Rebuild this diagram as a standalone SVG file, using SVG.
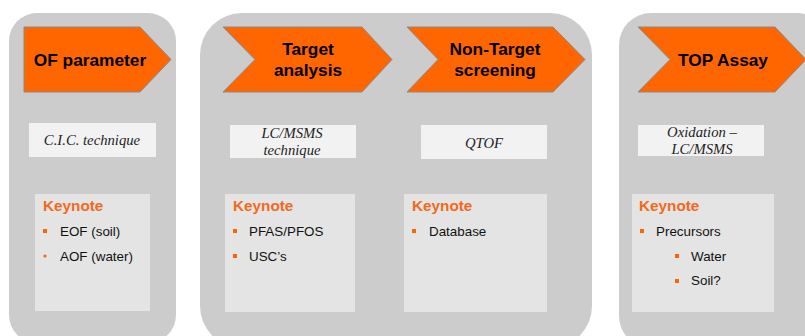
<svg xmlns="http://www.w3.org/2000/svg" width="805" height="336" viewBox="0 0 805 336">
<style>
.panel{fill:#cccccc}
.arrow{fill:#ff6600;stroke:#8a8a8a;stroke-width:1}
.tech{fill:#f2f2f2}
.key{fill:#e4e4e4}
.h{font-family:"Liberation Sans",Arial,sans-serif;font-weight:bold;font-size:17.3px;fill:#000;text-anchor:middle}
.it{font-family:"Liberation Serif","Times New Roman",serif;font-style:italic;font-size:14.7px;fill:#222;text-anchor:middle}
.kt{font-family:"Liberation Sans",Arial,sans-serif;font-weight:bold;font-size:15.3px;fill:#f26a1b}
.li{font-family:"Liberation Sans",Arial,sans-serif;font-size:13.4px;fill:#111}
.b{fill:#ff6600}
</style>
<rect width="805" height="336" fill="#ffffff"/>
<g id="panel-of">
<rect class="panel" x="9" y="13" width="167" height="330" rx="28"/>
<path class="arrow" d="M24,27 H140 L171,59.5 L140,92 H24 Z"/>
<text class="h" x="90" y="66">OF parameter</text>
<rect class="tech" x="29" y="123" width="127" height="34"/>
<text class="it" x="92" y="145">C.I.C. technique</text>
<rect class="key" x="35" y="194" width="115" height="117"/>
<text class="kt" x="43" y="211">Keynote</text>
<rect class="b" x="43" y="229" width="4" height="4"/>
<text class="li" x="60" y="236">EOF (soil)</text>
<circle class="b" cx="45" cy="256" r="1.6"/>
<text class="li" x="60" y="261">AOF (water)</text>
</g>
<g id="panel-target">
<rect class="panel" x="200" y="13" width="392" height="335" rx="42"/>
<g id="target-analysis">
<path class="arrow" d="M223,27 H362 L392,59.5 L362,92 H223 L255,59.5 Z"/>
<text class="h" x="308" y="55">Target</text>
<text class="h" x="308" y="76">analysis</text>
<rect class="tech" x="230" y="125" width="126" height="33"/>
<text class="it" x="292" y="138">LC/MSMS</text>
<text class="it" x="292" y="155">technique</text>
<rect class="key" x="225" y="194" width="130" height="118"/>
<text class="kt" x="233" y="211">Keynote</text>
<rect class="b" x="233" y="229" width="4" height="4"/>
<text class="li" x="249" y="236">PFAS/PFOS</text>
<rect class="b" x="233" y="254" width="4" height="4"/>
<text class="li" x="249" y="261">USC’s</text>
</g>
<g id="non-target">
<path class="arrow" d="M407,27 H553 L585,59.5 L553,92 H407 L438,59.5 Z"/>
<text class="h" x="495" y="55">Non-Target</text>
<text class="h" x="495" y="76">screening</text>
<rect class="tech" x="421" y="125" width="126" height="34"/>
<text class="it" x="484" y="148">QTOF</text>
<rect class="key" x="404" y="194" width="143" height="118"/>
<text class="kt" x="412" y="211">Keynote</text>
<rect class="b" x="412" y="229" width="4" height="4"/>
<text class="li" x="429" y="236">Database</text>
</g>
</g>
<g id="panel-top">
<rect class="panel" x="619" y="13" width="210" height="335" rx="32"/>
<path class="arrow" d="M638,27 H775 L806,59.5 L775,92 H638 L670,59.5 Z"/>
<text class="h" x="723" y="66">TOP Assay</text>
<rect class="tech" x="638" y="125" width="126" height="31"/>
<text class="it" x="702" y="137">Oxidation –</text>
<text class="it" x="702" y="154">LC/MSMS</text>
<rect class="key" x="632" y="194" width="142" height="118"/>
<text class="kt" x="639" y="211">Keynote</text>
<rect class="b" x="640" y="229" width="4" height="4"/>
<text class="li" x="656" y="236">Precursors</text>
<rect class="b" x="675" y="254" width="4" height="4"/>
<text class="li" x="691" y="261">Water</text>
<rect class="b" x="675" y="279" width="4" height="4"/>
<text class="li" x="691" y="285">Soil?</text>
</g>
</svg>
